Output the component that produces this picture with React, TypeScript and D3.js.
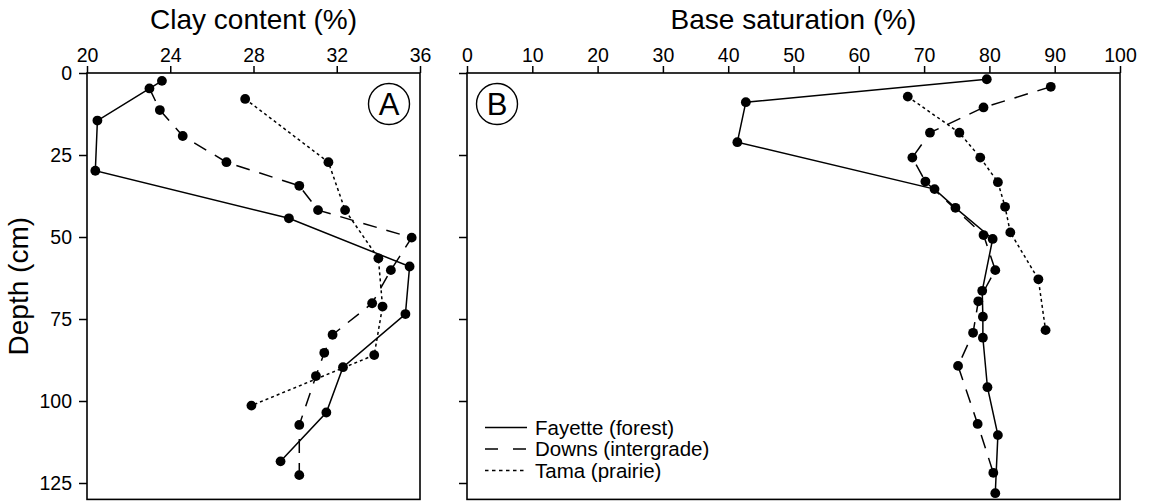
import { useEffect, useRef } from "react";
import * as d3 from "d3";

// Panel A: clay content (%) vs depth (cm)
const clayFayette: [number, number][] = [
  [23.6, 2.4], [20.5, 14.5], [20.4, 29.8], [29.7, 44.3], [35.5, 59],
  [35.3, 73.5], [32.3, 89.7], [31.5, 103.5], [29.3, 118.4],
];
const clayDowns: [number, number][] = [
  [23.0, 4.7], [23.5, 11.3], [24.6, 19.2], [26.7, 27.2], [30.2, 34.4],
  [31.1, 41.8], [35.6, 50.2], [34.6, 60.1], [33.7, 70.2], [31.8, 79.8],
  [31.4, 85.3], [31.0, 92.4], [30.2, 107.3], [30.2, 122.6],
];
const clayTama: [number, number][] = [
  [27.6, 7.9], [31.6, 27.2], [32.4, 41.8], [34.0, 56.5], [34.2, 71.2],
  [33.8, 86.0], [27.9, 101.4],
];

// Panel B: base saturation (%) vs depth (cm)
const bsFayette: [number, number][] = [
  [79.6, 1.9], [42.7, 8.9], [41.4, 21.1], [71.6, 35.4], [74.8, 41.1],
  [80.5, 50.6], [78.9, 66.4], [79.0, 74.3], [79.0, 80.7], [79.7, 95.8],
  [81.3, 110.4], [80.9, 128.1],
];
const bsDowns: [number, number][] = [
  [89.4, 4.2], [79.1, 10.5], [70.9, 18.2], [68.2, 25.8], [70.2, 33.1],
  [79.1, 49.4], [80.9, 60.1], [78.3, 69.6], [77.5, 79.2], [75.2, 89.3],
  [78.2, 107.0], [80.6, 121.9],
];
const bsTama: [number, number][] = [
  [67.5, 7.2], [75.4, 18.2], [78.6, 25.8], [81.3, 33.3], [82.4, 40.8],
  [83.2, 48.6], [87.5, 62.9], [88.6, 78.4],
];

const clayTicks = [20, 24, 28, 32, 36];
const bsTicks = [0, 10, 20, 30, 40, 50, 60, 70, 80, 90, 100];
const depthTicks = [0, 25, 50, 75, 100, 125];
const legendLabels = ["Fayette (forest)", "Downs (intergrade)", "Tama (prairie)"];

export default function App() {
  const ref = useRef<SVGSVGElement>(null);

  useEffect(() => {
    const svg = d3.select(ref.current);
    svg.selectAll("*").remove();

    const width = 1149;
    const height = 501;
    const top = 73;
    const bottom = 499.4;

    const y = d3.scaleLinear().domain([0, 130]).range([top, bottom]);
    const xA = d3.scaleLinear().domain([20, 36]).range([87, 420]);
    const xB = d3.scaleLinear().domain([0, 100]).range([467, 1120]);

    const dashes = [null, "14,10", "3,3"];

    const panel = (
      x: d3.ScaleLinear<number, number>,
      ticks: number[],
      series: [number, number][][],
      showYLabels: boolean,
      title: string,
      letter: string,
      letterX: number
    ) => {
      const g = svg.append("g");
      const [x0, x1] = x.range();

      // top axis
      g.append("g")
        .attr("transform", `translate(0,${top})`)
        .call(d3.axisTop(x).tickValues(ticks).tickSize(7).tickPadding(4).tickFormat(d3.format("d")))
        .call(a => a.select(".domain").remove())
        .call(a => a.selectAll(".tick line").attr("stroke", "#000").attr("stroke-width", 1.5))
        .selectAll("text")
        .attr("fill", "#000")
        .style("font-size", "19.5px")
        .style("font-family", "'Liberation Sans', Arial, sans-serif");

      // left axis
      g.append("g")
        .attr("transform", `translate(${x0},0)`)
        .call(d3.axisLeft(y).tickValues(depthTicks).tickSize(8).tickPadding(7)
          .tickFormat(showYLabels ? d3.format("d") : () => ""))
        .call(a => a.select(".domain").remove())
        .call(a => a.selectAll(".tick line").attr("stroke", "#000").attr("stroke-width", 1.5))
        .selectAll("text")
        .attr("fill", "#000")
        .style("font-size", "19.5px")
        .style("font-family", "'Liberation Sans', Arial, sans-serif");

      // frame
      g.append("rect")
        .attr("x", x0).attr("y", top)
        .attr("width", x1 - x0).attr("height", bottom - top)
        .attr("fill", "none").attr("stroke", "#000").attr("stroke-width", 1.6);

      const line = d3.line<[number, number]>().x(d => x(d[0])).y(d => y(d[1]));

      series.forEach((s, i) => {
        g.append("path")
          .datum(s)
          .attr("d", line)
          .attr("fill", "none")
          .attr("stroke", "#000")
          .attr("stroke-width", 1.5)
          .attr("stroke-dasharray", dashes[i]);
      });
      series.forEach(s => {
        g.selectAll(null)
          .data(s)
          .enter()
          .append("circle")
          .attr("cx", d => x(d[0]))
          .attr("cy", d => y(d[1]))
          .attr("r", 4.9)
          .attr("fill", "#000");
      });

      // title
      g.append("text")
        .attr("x", (x0 + x1) / 2)
        .attr("y", 29)
        .attr("text-anchor", "middle")
        .style("font-size", "28px")
        .text(title);

      // panel letter
      g.append("circle")
        .attr("cx", letterX).attr("cy", 104).attr("r", 20.5)
        .attr("fill", "#fff").attr("stroke", "#000").attr("stroke-width", 1.4);
      g.append("text")
        .attr("x", letterX).attr("y", 115)
        .attr("text-anchor", "middle")
        .style("font-size", "31px")
        .text(letter);
    };

    panel(xA, clayTicks, [clayFayette, clayDowns, clayTama], true, "Clay content (%)", "A", 389);
    panel(xB, bsTicks, [bsFayette, bsDowns, bsTama], false, "Base saturation (%)", "B", 497);

    // y axis title
    svg.append("text")
      .attr("transform", `translate(28,${(top + bottom) / 2}) rotate(-90)`)
      .attr("text-anchor", "middle")
      .style("font-size", "28px")
      .text("Depth (cm)");

    // legend
    const legendDash = [null, "13,15", "3.5,3.5"];
    const leg = svg.append("g").attr("transform", "translate(485,434.5)");
    legendLabels.forEach((label, i) => {
      const row = leg.append("g").attr("transform", `translate(0,${i * 21.5})`);
      row.append("line")
        .attr("x1", 0).attr("x2", 42).attr("y1", -7).attr("y2", -7)
        .attr("stroke", "#000").attr("stroke-width", 1.5)
        .attr("stroke-dasharray", legendDash[i]);
      row.append("text")
        .attr("x", 50).attr("y", 0)
        .style("font-size", "20.5px")
        .text(label);
    });

    svg.attr("width", width).attr("height", height);
  }, []);

  return (
    <div style={{ position: "absolute", left: 0, top: 0, background: "#fff" }}>
      <svg
        ref={ref}
        width={1149}
        height={501}
        style={{ display: "block", fontFamily: "'Liberation Sans', Arial, sans-serif" }}
      />
    </div>
  );
}
